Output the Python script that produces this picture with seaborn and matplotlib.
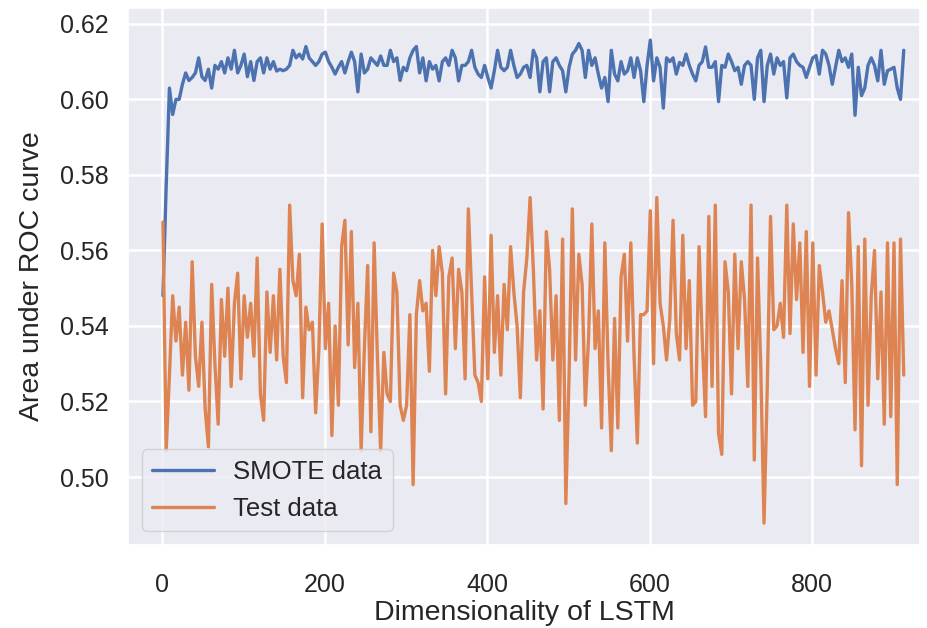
import numpy as np
import pandas as pd
import matplotlib
matplotlib.use("Agg")
import matplotlib.pyplot as plt
import seaborn as sns

# LSTM dimensionality (x), sampled every 4 units
dims = list(range(1, 914, 4))

smote_auc = [
    0.548, 0.577, 0.603, 0.596, 0.600, 0.600, 0.604, 0.607, 0.605, 0.6058, 0.607, 0.611, 0.606, 0.605, 0.608, 0.603,
    0.609, 0.608, 0.610, 0.607, 0.611, 0.608, 0.613, 0.607, 0.609, 0.612, 0.606, 0.610, 0.605, 0.610, 0.611, 0.607,
    0.611, 0.608, 0.610, 0.6075, 0.608,
    0.6076, 0.608, 0.609, 0.613, 0.611, 0.612, 0.6107, 0.614, 0.611, 0.610, 0.609, 0.610, 0.612, 0.6125, 0.610, 0.6085,
    0.6067, 0.6085, 0.610, 0.607, 0.610, 0.6125, 0.610, 0.602, 0.612, 0.607, 0.608, 0.611, 0.610, 0.609, 0.6115, 0.609,
    0.609, 0.613, 0.610, 0.611, 0.605, 0.6085,
    0.6076, 0.611, 0.613, 0.614, 0.607, 0.611, 0.6049, 0.610, 0.608, 0.609, 0.6049, 0.610, 0.611, 0.609, 0.613, 0.611,
    0.6049, 0.609, 0.609, 0.610, 0.613, 0.6085, 0.6067, 0.6058, 0.609, 0.6058, 0.603, 0.6076, 0.613, 0.6085, 0.6076, 0.6085,
    0.613, 0.609, 0.6058, 0.6067, 0.6085, 0.609, 0.6058,
    0.613, 0.611, 0.602, 0.610, 0.611, 0.602, 0.610, 0.611, 0.609, 0.6076, 0.602, 0.6085, 0.612, 0.613, 0.6148, 0.613,
    0.6058, 0.613, 0.609, 0.611, 0.6067, 0.603, 0.6058, 0.5994, 0.613, 0.6067, 0.6049, 0.610, 0.6067, 0.6076, 0.611, 0.6058,
    0.611, 0.6076, 0.5994, 0.609, 0.6157, 0.6049,
    0.611, 0.6085, 0.5977, 0.611, 0.610, 0.611, 0.6067, 0.6098, 0.609, 0.612, 0.609, 0.6067, 0.6049, 0.609, 0.610, 0.6139,
    0.6085, 0.6085, 0.610, 0.5994, 0.609, 0.6085, 0.612, 0.610, 0.6076, 0.6085, 0.604, 0.609, 0.610, 0.609, 0.600, 0.611,
    0.613, 0.5994, 0.609, 0.612, 0.6067, 0.611,
    0.609, 0.610, 0.6004, 0.611, 0.612, 0.610, 0.609, 0.6085, 0.6058, 0.6085, 0.611, 0.6116, 0.6067, 0.613, 0.612, 0.609,
    0.604, 0.6085, 0.613, 0.610, 0.611, 0.6085, 0.612, 0.5958, 0.6085, 0.601, 0.603, 0.609, 0.611, 0.609, 0.6049, 0.613,
    0.604, 0.6076, 0.608, 0.6085, 0.603, 0.600, 0.613,
]

test_auc = [
    0.5675, 0.507, 0.527, 0.548, 0.536, 0.545, 0.527, 0.541, 0.523, 0.557, 0.532, 0.524, 0.541, 0.518, 0.508, 0.551,
    0.530, 0.514, 0.547, 0.532, 0.550, 0.524, 0.546, 0.554, 0.526, 0.548, 0.537, 0.546, 0.532, 0.558, 0.522, 0.515,
    0.549, 0.533, 0.548, 0.531, 0.555,
    0.532, 0.525, 0.572, 0.552, 0.548, 0.559, 0.521, 0.545, 0.539, 0.541, 0.517, 0.534, 0.567, 0.534, 0.546, 0.511,
    0.540, 0.519, 0.561, 0.568, 0.535, 0.565, 0.529, 0.546, 0.507, 0.534, 0.556, 0.512, 0.562, 0.532, 0.507, 0.533,
    0.522, 0.520, 0.554, 0.549, 0.519, 0.515,
    0.519, 0.543, 0.498, 0.543, 0.552, 0.544, 0.546, 0.528, 0.560, 0.548, 0.561, 0.554, 0.522, 0.553, 0.558, 0.534,
    0.555, 0.549, 0.526, 0.571, 0.549, 0.527, 0.525, 0.520, 0.553, 0.526, 0.564, 0.533, 0.548, 0.527, 0.551, 0.539,
    0.561, 0.549, 0.540, 0.521, 0.549, 0.558, 0.574,
    0.555, 0.531, 0.544, 0.518, 0.565, 0.555, 0.531, 0.548, 0.515, 0.563, 0.493, 0.527, 0.571, 0.531, 0.559, 0.551,
    0.519, 0.537, 0.567, 0.534, 0.544, 0.513, 0.562, 0.530, 0.507, 0.542, 0.513, 0.553, 0.559, 0.536, 0.562, 0.532,
    0.509, 0.543, 0.543, 0.544, 0.5705, 0.530,
    0.574, 0.546, 0.540, 0.531, 0.542, 0.568, 0.538, 0.531, 0.564, 0.534, 0.552, 0.519, 0.520, 0.561, 0.536, 0.516,
    0.569, 0.524, 0.572, 0.5115, 0.506, 0.557, 0.549, 0.522, 0.559, 0.534, 0.557, 0.547, 0.524, 0.572, 0.5045, 0.558,
    0.529, 0.4878, 0.524, 0.569, 0.539, 0.540,
    0.546, 0.537, 0.572, 0.538, 0.567, 0.547, 0.562, 0.533, 0.565, 0.524, 0.562, 0.527, 0.556, 0.549, 0.541, 0.544,
    0.539, 0.534, 0.530, 0.552, 0.525, 0.570, 0.551, 0.5125, 0.561, 0.503, 0.563, 0.519, 0.548, 0.560, 0.526, 0.549,
    0.514, 0.562, 0.516, 0.562, 0.498, 0.563, 0.527,
]

series_names = ["SMOTE data", "Test data"]
y_ticks = [0.50, 0.52, 0.54, 0.56, 0.58, 0.60, 0.62]
x_ticks = [0, 200, 400, 600, 800]

n = len(dims)
df = pd.DataFrame({
    "dim": dims + dims,
    "auc": smote_auc[:n] + test_auc[:n],
    "series": [series_names[0]] * n + [series_names[1]] * n,
})

sns.set_theme(style="darkgrid")
plt.rcParams["font.family"] = ["Liberation Sans", "DejaVu Sans"]

fig = plt.figure(figsize=(9.27, 6.28), dpi=100)
ax = fig.add_axes([128 / 927, 1 - 545 / 628, (920 - 128) / 927, (545 - 8) / 628])

sns.lineplot(data=df, x="dim", y="auc", hue="series", estimator=None,
             palette=["#4C72B0", "#DD8452"], linewidth=2.4, ax=ax)

ax.set_xlim(-42, 933)
ax.set_ylim(0.482, 0.6242)
ax.set_xticks(x_ticks)
ax.set_yticks(y_ticks)
ax.set_yticklabels([f"{v:.2f}" for v in y_ticks])
ax.tick_params(axis="both", labelsize=18, colors="#262626", length=0)
ax.tick_params(axis="x", pad=20)
ax.tick_params(axis="y", pad=14)
ax.grid(True, color="white", linewidth=1.8)
ax.set_xlabel("Dimensionality of LSTM", fontsize=20.5, color="#262626", labelpad=2)
ax.set_ylabel("Area under ROC curve", fontsize=20.5, color="#262626", labelpad=11)

leg = ax.legend(loc="lower left", fontsize=18.5, handlelength=2.4, handletextpad=0.75,
                borderaxespad=0.55, framealpha=0.8, title=None)
for line in leg.get_lines():
    line.set_linewidth(2.4)

fig.savefig("out.png", dpi=100)
